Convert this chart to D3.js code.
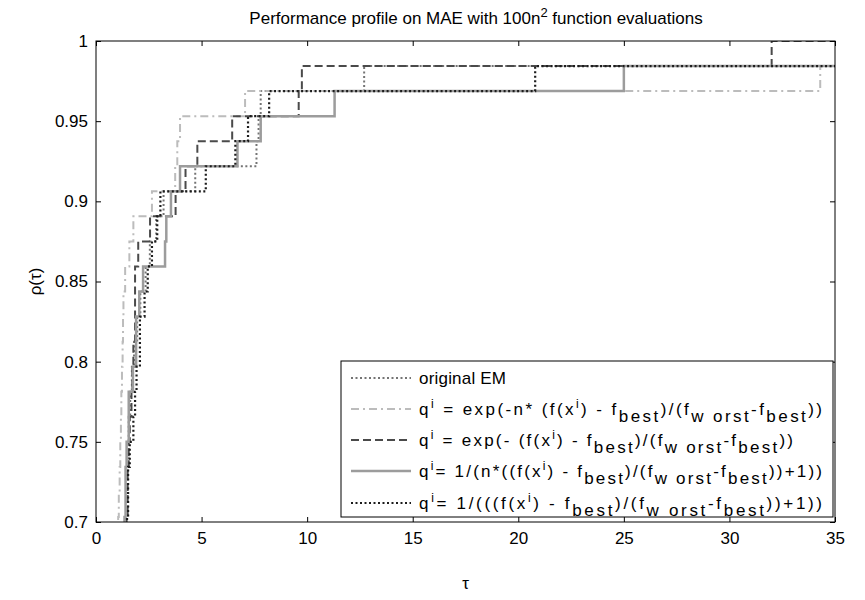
<!DOCTYPE html>
<html lang="en">
<head>
  <meta charset="UTF-8">
  <title>Performance profile on MAE</title>
  <script src="https://cdn.jsdelivr.net/npm/d3@7/dist/d3.min.js"></script>
  <style>
    body {
      margin: 0;
      background: #fff;
      font-family: "Liberation Sans", Arial, sans-serif;
    }

    svg {
      display: block;
    }

    .axis text {
      font-size: 17px;
      fill: #000;
    }

    .axis line {
      stroke: #000;
    }

    .legend-text {
      font-size: 17px;
      white-space: pre;
    }
  </style>
</head>
<body>
  <svg width="865" height="600"></svg>

  <script>
    // 64 test problems; counts = problems solved at tau
    const nProblems = 64;

    const origTau = [1.45, 1.50, 1.55, 1.62, 1.70, 1.80, 1.95, 2.10, 2.35, 2.55, 2.85, 3.2, 4.7, 7.6, 7.7, 7.8, 12.7];
    const origCount = [45, 47, 49, 50, 51, 52, 53, 54, 55, 56, 57, 58, 59, 60, 61, 62, 63];

    const expNTau = [1.05, 1.08, 1.12, 1.15, 1.18, 1.20, 1.23, 1.26, 1.28, 1.30, 1.38, 1.58, 1.77, 2.65, 3.75, 3.85, 3.98, 7.06, 34.3];
    const expNCount = [45, 46, 47, 48, 49, 50, 51, 52, 53, 54, 55, 56, 57, 58, 59, 60, 61, 62, 63];

    const expTau = [1.45, 1.50, 1.55, 1.60, 1.68, 1.72, 1.77, 1.85, 2.0, 2.56, 3.77, 4.24, 4.80, 6.45, 9.6, 9.75, 32.0];
    const expCount = [45, 47, 48, 49, 50, 51, 52, 55, 56, 57, 58, 59, 60, 61, 62, 63, 64];

    const invNTau = [1.35, 1.40, 1.45, 1.55, 1.75, 1.90, 2.05, 2.23, 3.27, 3.33, 3.55, 3.98, 6.7, 7.8, 11.3, 25.0];
    const invNCount = [45, 47, 48, 50, 51, 53, 54, 55, 56, 57, 58, 59, 60, 61, 62, 63];

    const invTau = [1.47, 1.52, 1.60, 1.77, 1.85, 1.92, 2.08, 2.30, 2.45, 2.65, 2.90, 3.05, 5.2, 6.6, 7.2, 8.2, 20.8];
    const invCount = [45, 47, 48, 49, 50, 51, 53, 54, 55, 56, 57, 58, 59, 60, 61, 62, 63];

    const xTicks = [0, 5, 10, 15, 20, 25, 30, 35];
    const yTicks = [0.7, 0.75, 0.8, 0.85, 0.9, 0.95, 1];

    // legend labels: [text, "sup" | "sub" | undefined]
    const legendLabels = [
      [["original EM"]],
      [["q"], ["i", "sup"], [" = exp(-n* (f(x"], ["i", "sup"], [") - f"], ["best", "sub"], [")/(f"], ["w orst", "sub"], ["-f"], ["best", "sub"], ["))"]],
      [["q"], ["i", "sup"], [" = exp(- (f(x"], ["i", "sup"], [") - f"], ["best", "sub"], [")/(f"], ["w orst", "sub"], ["-f"], ["best", "sub"], ["))"]],
      [["q"], ["i", "sup"], ["= 1/(n*((f(x"], ["i", "sup"], [") - f"], ["best", "sub"], [")/(f"], ["w orst", "sub"], ["-f"], ["best", "sub"], ["))+1))"]],
      [["q"], ["i", "sup"], ["= 1/(((f(x"], ["i", "sup"], [") - f"], ["best", "sub"], [")/(f"], ["w orst", "sub"], ["-f"], ["best", "sub"], ["))+1))"]]
    ];
    // rendered width of each legend label in the figure
    const legendWidths = [87, 403, 374, 403, 403];

    const series = [
      { tau: origTau, count: origCount, color: "#747474", width: 2, dash: "2,2.5" },
      { tau: expNTau, count: expNCount, color: "#bcbcbc", width: 2, dash: "8,4,2,4" },
      { tau: expTau, count: expCount, color: "#4a4a4a", width: 2, dash: "8,4" },
      { tau: invNTau, count: invNCount, color: "#9c9c9c", width: 2.5, dash: null },
      { tau: invTau, count: invCount, color: "#1c1c1c", width: 2.2, dash: "2,2.5" }
    ];

    const margin = { top: 41, right: 30, bottom: 78, left: 96 };
    const width = 865, height = 600;
    const svg = d3.select("svg");

    const x = d3.scaleLinear().domain([0, 35]).range([margin.left, width - margin.right]);
    const y = d3.scaleLinear().domain([0.7, 1]).range([height - margin.bottom, margin.top]);

    svg.append("defs").append("clipPath").attr("id", "plot-clip")
      .append("rect")
      .attr("x", x(0)).attr("y", y(1))
      .attr("width", x(35) - x(0)).attr("height", y(0.7) - y(1));

    const line = d3.line()
      .x(d => x(d[0]))
      .y(d => y(d[1]))
      .curve(d3.curveStepAfter);

    const plot = svg.append("g").attr("clip-path", "url(#plot-clip)");

    series.forEach(s => {
      const pts = [[s.tau[0], 0.69]];
      s.tau.forEach((t, i) => pts.push([t, s.count[i] / nProblems]));
      pts.push([35.5, s.count[s.count.length - 1] / nProblems]);
      plot.append("path")
        .datum(pts)
        .attr("fill", "none")
        .attr("stroke", s.color)
        .attr("stroke-width", s.width)
        .attr("stroke-dasharray", s.dash)
        .attr("d", line);
    });

    // axes, MATLAB style: ticks inside on all four sides
    const tick = 5;
    svg.append("g").attr("class", "axis")
      .attr("transform", `translate(0,${y(0.7)})`)
      .call(d3.axisBottom(x).tickValues(xTicks).tickSizeInner(-tick).tickSizeOuter(0).tickPadding(10))
      .call(g => g.select(".domain").remove());
    svg.append("g").attr("class", "axis")
      .attr("transform", `translate(0,${y(1)})`)
      .call(d3.axisTop(x).tickValues(xTicks).tickSizeInner(-tick).tickSizeOuter(0).tickFormat(""))
      .call(g => g.select(".domain").remove());
    svg.append("g").attr("class", "axis")
      .attr("transform", `translate(${x(0)},0)`)
      .call(d3.axisLeft(y).tickValues(yTicks).tickSizeInner(-tick).tickSizeOuter(0).tickPadding(8).tickFormat(d3.format("~g")))
      .call(g => g.select(".domain").remove());
    svg.append("g").attr("class", "axis")
      .attr("transform", `translate(${x(35)},0)`)
      .call(d3.axisRight(y).tickValues(yTicks).tickSizeInner(-tick).tickSizeOuter(0).tickFormat(""))
      .call(g => g.select(".domain").remove());

    svg.append("rect")
      .attr("x", x(0)).attr("y", y(1))
      .attr("width", x(35) - x(0)).attr("height", y(0.7) - y(1))
      .attr("fill", "none").attr("stroke", "#000").attr("stroke-width", 1);

    // title and axis labels
    const title = svg.append("text")
      .attr("x", 476).attr("y", 24)
      .attr("text-anchor", "middle")
      .style("font-size", "17px");
    title.append("tspan").text("Performance profile on MAE with 100n");
    title.append("tspan").attr("dy", -7).style("font-size", "13px").text("2");
    title.append("tspan").attr("dy", 7).text(" function evaluations");

    svg.append("text")
      .attr("x", (x(0) + x(35)) / 2).attr("y", 589)
      .attr("text-anchor", "middle")
      .style("font-size", "17px")
      .text("τ");

    svg.append("text")
      .attr("transform", `translate(41,${(y(0.7) + y(1)) / 2}) rotate(-90)`)
      .attr("text-anchor", "middle")
      .style("font-size", "17px")
      .text("ρ(τ)");

    // legend
    const legend = svg.append("g");
    legend.append("rect")
      .attr("x", 341).attr("y", 361)
      .attr("width", 492).attr("height", 156)
      .attr("fill", "#fff").attr("stroke", "#000").attr("stroke-width", 1);

    const rowY = [378, 409, 440, 471, 503];
    series.forEach((s, i) => {
      legend.append("line")
        .attr("x1", 351).attr("x2", 411)
        .attr("y1", rowY[i]).attr("y2", rowY[i])
        .attr("stroke", s.color)
        .attr("stroke-width", s.width)
        .attr("stroke-dasharray", s.dash);

      const txt = legend.append("text")
        .attr("class", "legend-text")
        .attr("x", 419).attr("y", rowY[i] + 6);
      let level = 0;
      legendLabels[i].forEach(([t, kind]) => {
        const target = kind === "sup" ? -7 : kind === "sub" ? 7 : 0;
        txt.append("tspan")
          .attr("dy", target - level)
          .style("font-size", kind === "sup" ? "12px" : "17px")
          .text(t);
        level = target;
      });

      // stretch spacing so the label spans the same width as in the figure
      const natural = txt.node().getComputedTextLength();
      const chars = txt.text().length;
      if (chars > 1 && legendWidths[i] > natural) {
        txt.style("letter-spacing", `${(legendWidths[i] - natural) / (chars - 1)}px`);
      }
    });
  </script>
</body>
</html>
